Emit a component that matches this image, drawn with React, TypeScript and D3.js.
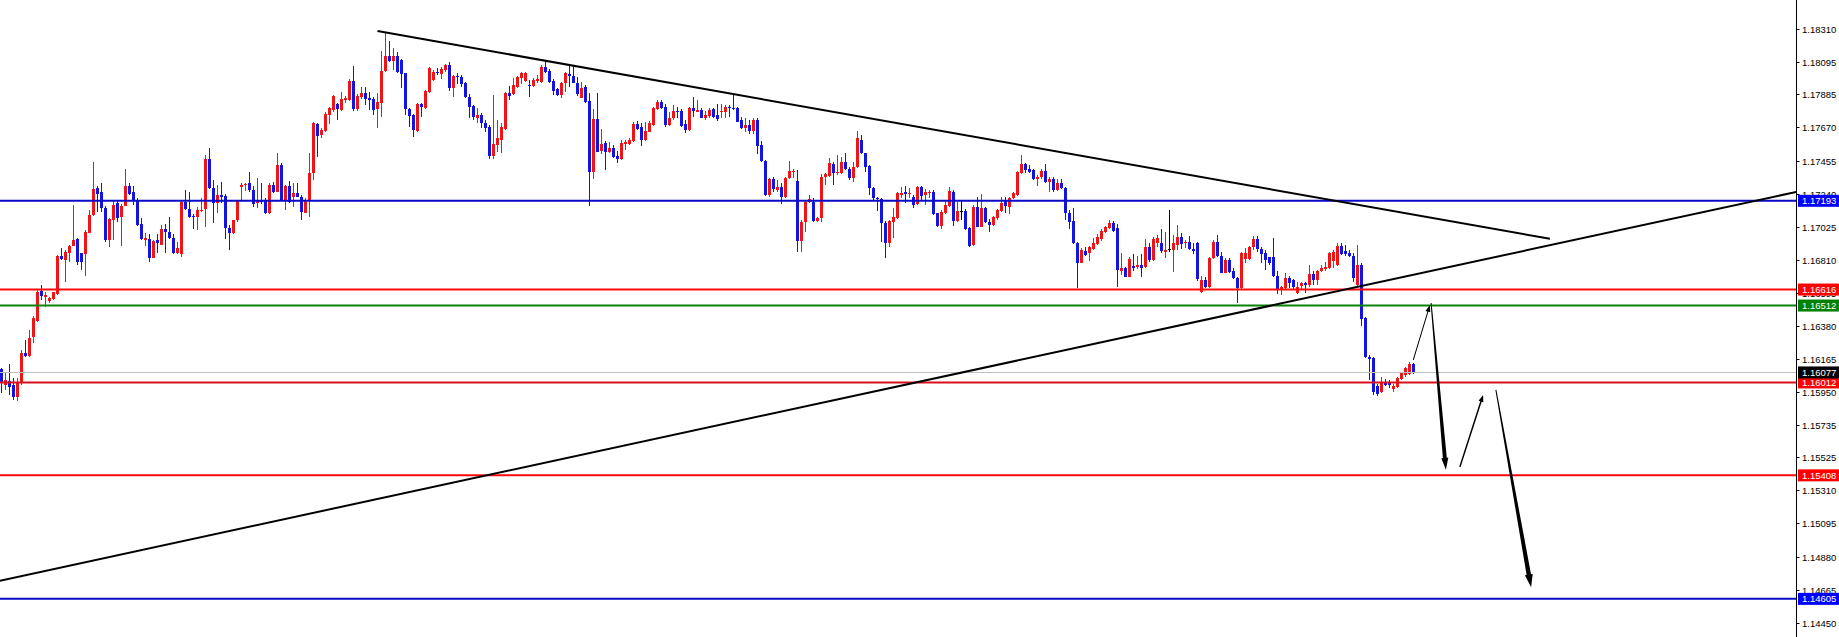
import React from 'react';
import * as d3 from 'd3';

// candle data (bar index = position from left), prices
const opens = [
  1.16098, 1.15996, 1.16024, 1.15996, 1.15920, 1.16007, 1.16206, 1.16185, 1.16310, 1.16414, 1.16607, 1.16570, 1.16544, 1.16553, 1.16588,
  1.16831, 1.16809, 1.16852, 1.16900, 1.16943, 1.16852, 1.16848, 1.16986, 1.17101, 1.17275, 1.17247, 1.17149, 1.16939, 1.17069, 1.17177,
  1.17086, 1.17160, 1.17290, 1.17247, 1.17199, 1.17043, 1.16939, 1.16943, 1.16824, 1.16939, 1.16906, 1.17008, 1.16993, 1.16954, 1.16852,
  1.16848, 1.17188, 1.17138, 1.17095, 1.17086, 1.17127, 1.17138, 1.17463, 1.17275, 1.17177, 1.17231, 1.17221, 1.17019, 1.16986, 1.17065,
  1.17281, 1.17296, 1.17307, 1.17264, 1.17177, 1.17199, 1.17195, 1.17112, 1.17296, 1.17253, 1.17426, 1.17199, 1.17291, 1.17220, 1.17246,
  1.17220, 1.17116, 1.17198, 1.17376, 1.17692, 1.17621, 1.17649, 1.17751, 1.17784, 1.17822, 1.17784, 1.17848, 1.17848, 1.17972, 1.17788,
  1.17870, 1.17896, 1.17859, 1.17853, 1.17788, 1.17831, 1.18039, 1.18134, 1.18104, 1.18134, 1.18108, 1.18022, 1.17788, 1.17751, 1.17649,
  1.17822, 1.17794, 1.17903, 1.17978, 1.18033, 1.18017, 1.18043, 1.18076, 1.17924, 1.18004, 1.18000, 1.17957, 1.17866, 1.17810, 1.17729,
  1.17751, 1.17697, 1.17675, 1.17484, 1.17556, 1.17588, 1.17658, 1.17892, 1.17887, 1.17935, 1.17989, 1.17974, 1.17946, 1.17940, 1.17974,
  1.17967, 1.18065, 1.18039, 1.17974, 1.17918, 1.17881, 1.17957, 1.18017, 1.18004, 1.17957, 1.17864, 1.17935, 1.17842, 1.17378, 1.17725,
  1.17517, 1.17567, 1.17508, 1.17534, 1.17487, 1.17465, 1.17560, 1.17560, 1.17582, 1.17690, 1.17675, 1.17588, 1.17643, 1.17686, 1.17790,
  1.17838, 1.17805, 1.17686, 1.17729, 1.17777, 1.17777, 1.17690, 1.17653, 1.17794, 1.17773, 1.17783, 1.17734, 1.17747, 1.17790, 1.17751,
  1.17768, 1.17768, 1.17805, 1.17799, 1.17794, 1.17718, 1.17669, 1.17686, 1.17647, 1.17718, 1.17556, 1.17452, 1.17231, 1.17335, 1.17263,
  1.17285, 1.17220, 1.17344, 1.17378, 1.17322, 1.16932, 1.17058, 1.17188, 1.17188, 1.17062, 1.17079, 1.17350, 1.17357, 1.17430, 1.17372,
  1.17372, 1.17443, 1.17400, 1.17339, 1.17415, 1.17589, 1.17502, 1.17420, 1.17274, 1.17213, 1.17203, 1.17051, 1.16917, 1.17058, 1.17079,
  1.17231, 1.17253, 1.17238, 1.17220, 1.17172, 1.17285, 1.17231, 1.17242, 1.17253, 1.17112, 1.17030, 1.17116, 1.17160, 1.17253, 1.17064,
  1.17129, 1.17129, 1.17014, 1.16906, 1.17155, 1.17025, 1.17144, 1.17058, 1.17036, 1.17079, 1.17129, 1.17194, 1.17155, 1.17209, 1.17231,
  1.17372, 1.17433, 1.17398, 1.17394, 1.17333, 1.17346, 1.17389, 1.17318, 1.17333, 1.17263, 1.17311, 1.17274, 1.17116, 1.17064, 1.16921,
  1.16791, 1.16869, 1.16852, 1.16878, 1.16912, 1.16943, 1.16993, 1.17014, 1.17051, 1.17014, 1.16739, 1.16754, 1.16700, 1.16769, 1.16761,
  1.16776, 1.16765, 1.16895, 1.16809, 1.16917, 1.16921, 1.16863, 1.16878, 1.16873, 1.16906, 1.16956, 1.16917, 1.16928, 1.16878, 1.16921,
  1.16603, 1.16678, 1.16631, 1.16819, 1.16928, 1.16834, 1.16726, 1.16809, 1.16739, 1.16689, 1.16624, 1.16813, 1.16813, 1.16895, 1.16943,
  1.16878, 1.16856, 1.16826, 1.16826, 1.16704, 1.16614, 1.16624, 1.16689, 1.16678, 1.16596, 1.16640, 1.16661, 1.16646, 1.16717, 1.16678,
  1.16739, 1.16748, 1.16754, 1.16800, 1.16776, 1.16900, 1.16869, 1.16852, 1.16834, 1.16646, 1.16776, 1.16429, 1.16180, 1.16170, 1.15990,
  1.15953, 1.16018, 1.16007, 1.15968, 1.15981, 1.16033, 1.16061, 1.16067, 1.16132,
];

const highs = [
  1.16105, 1.16076, 1.16131, 1.16040, 1.16040, 1.16224, 1.16289, 1.16354, 1.16441, 1.16614, 1.16646, 1.16599, 1.16570, 1.16603, 1.16841,
  1.16885, 1.16874, 1.16906, 1.17166, 1.16950, 1.16856, 1.17004, 1.17134, 1.17448, 1.17286, 1.17307, 1.17156, 1.17080, 1.17195, 1.17195,
  1.17173, 1.17398, 1.17312, 1.17286, 1.17210, 1.17080, 1.16982, 1.16978, 1.16939, 1.16978, 1.17036, 1.17043, 1.17086, 1.16978, 1.16928,
  1.17199, 1.17260, 1.17253, 1.17108, 1.17151, 1.17210, 1.17491, 1.17535, 1.17329, 1.17296, 1.17318, 1.17238, 1.17036, 1.17069, 1.17199,
  1.17307, 1.17312, 1.17381, 1.17286, 1.17340, 1.17307, 1.17210, 1.17312, 1.17318, 1.17502, 1.17437, 1.17296, 1.17322, 1.17307, 1.17307,
  1.17231, 1.17209, 1.17502, 1.17708, 1.17701, 1.17664, 1.17772, 1.17801, 1.17881, 1.17831, 1.17903, 1.17874, 1.17983, 1.18069, 1.17887,
  1.17935, 1.17935, 1.17903, 1.17866, 1.17896, 1.18169, 1.18293, 1.18234, 1.18184, 1.18163, 1.18113, 1.18026, 1.17794, 1.17757, 1.17831,
  1.17831, 1.17913, 1.18065, 1.18043, 1.18054, 1.18061, 1.18082, 1.18098, 1.18011, 1.18026, 1.18011, 1.17967, 1.17887, 1.17816, 1.17794,
  1.17766, 1.17718, 1.17686, 1.17881, 1.17718, 1.17701, 1.17903, 1.17940, 1.17989, 1.18004, 1.18033, 1.18033, 1.17978, 1.17989, 1.18011,
  1.18076, 1.18104, 1.18048, 1.17983, 1.17924, 1.17967, 1.18033, 1.18076, 1.18076, 1.18000, 1.17968, 1.17946, 1.17892, 1.17790, 1.17892,
  1.17660, 1.17582, 1.17578, 1.17556, 1.17517, 1.17588, 1.17588, 1.17599, 1.17708, 1.17712, 1.17697, 1.17708, 1.17712, 1.17805, 1.17848,
  1.17848, 1.17820, 1.17773, 1.17816, 1.17805, 1.17790, 1.17718, 1.17805, 1.17870, 1.17848, 1.17794, 1.17777, 1.17794, 1.17794, 1.17820,
  1.17820, 1.17816, 1.17816, 1.17892, 1.17805, 1.17740, 1.17729, 1.17718, 1.17729, 1.17734, 1.17582, 1.17458, 1.17339, 1.17350, 1.17328,
  1.17307, 1.17350, 1.17452, 1.17400, 1.17393, 1.17068, 1.17198, 1.17231, 1.17209, 1.17090, 1.17365, 1.17372, 1.17469, 1.17443, 1.17491,
  1.17480, 1.17502, 1.17415, 1.17448, 1.17647, 1.17620, 1.17506, 1.17426, 1.17285, 1.17220, 1.17209, 1.17064, 1.17068, 1.17144, 1.17253,
  1.17285, 1.17290, 1.17274, 1.17231, 1.17290, 1.17290, 1.17268, 1.17263, 1.17263, 1.17116, 1.17133, 1.17199, 1.17281, 1.17263, 1.17188,
  1.17194, 1.17138, 1.17021, 1.17166, 1.17216, 1.17238, 1.17155, 1.17073, 1.17094, 1.17138, 1.17216, 1.17216, 1.17220, 1.17253, 1.17389,
  1.17491, 1.17441, 1.17426, 1.17398, 1.17361, 1.17398, 1.17433, 1.17346, 1.17346, 1.17333, 1.17333, 1.17281, 1.17133, 1.17144, 1.16928,
  1.16884, 1.16891, 1.16899, 1.16949, 1.16977, 1.17008, 1.17030, 1.17068, 1.17064, 1.17042, 1.16852, 1.16765, 1.16826, 1.16847, 1.16834,
  1.16847, 1.16943, 1.16917, 1.16956, 1.16971, 1.17008, 1.16993, 1.17133, 1.16971, 1.17036, 1.16982, 1.16939, 1.16964, 1.16917, 1.16928,
  1.16704, 1.16696, 1.16830, 1.16939, 1.16971, 1.16863, 1.16819, 1.16819, 1.16754, 1.16700, 1.16863, 1.16884, 1.16900, 1.16964, 1.16964,
  1.16895, 1.16873, 1.16830, 1.16949, 1.16739, 1.16640, 1.16722, 1.16704, 1.16683, 1.16668, 1.16668, 1.16668, 1.16776, 1.16739, 1.16743,
  1.16776, 1.16798, 1.16863, 1.16873, 1.16921, 1.16921, 1.16906, 1.16873, 1.16852, 1.16906, 1.16787, 1.16440, 1.16191, 1.16175, 1.16005,
  1.16046, 1.16033, 1.16028, 1.16003, 1.16046, 1.16083, 1.16115, 1.16148, 1.16137,
];

const lows = [
  1.15942, 1.15964, 1.15931, 1.15899, 1.15894, 1.15996, 1.16180, 1.16180, 1.16267, 1.16408, 1.16549, 1.16505, 1.16527, 1.16549, 1.16581,
  1.16809, 1.16668, 1.16798, 1.16896, 1.16776, 1.16744, 1.16707, 1.16982, 1.17095, 1.17117, 1.17123, 1.16928, 1.16891, 1.16939, 1.17058,
  1.16896, 1.17156, 1.17231, 1.17166, 1.17030, 1.16939, 1.16896, 1.16798, 1.16820, 1.16856, 1.16906, 1.16852, 1.16943, 1.16846, 1.16848,
  1.16826, 1.17134, 1.17080, 1.17008, 1.17004, 1.17123, 1.17021, 1.17268, 1.17047, 1.17112, 1.17177, 1.16943, 1.16870, 1.16978, 1.17058,
  1.17188, 1.17257, 1.17253, 1.17151, 1.17145, 1.17173, 1.17108, 1.17108, 1.17242, 1.17247, 1.17195, 1.17134, 1.17181, 1.17155, 1.17216,
  1.17068, 1.17112, 1.17090, 1.17328, 1.17480, 1.17599, 1.17643, 1.17692, 1.17772, 1.17718, 1.17779, 1.17831, 1.17844, 1.17779, 1.17779,
  1.17853, 1.17816, 1.17784, 1.17751, 1.17664, 1.17740, 1.18033, 1.18098, 1.18043, 1.18022, 1.17924, 1.17751, 1.17675, 1.17606, 1.17643,
  1.17740, 1.17788, 1.17896, 1.17974, 1.18011, 1.17983, 1.18033, 1.17909, 1.17870, 1.17952, 1.17935, 1.17859, 1.17729, 1.17718, 1.17701,
  1.17664, 1.17643, 1.17463, 1.17463, 1.17513, 1.17502, 1.17653, 1.17848, 1.17881, 1.17924, 1.17952, 1.17967, 1.17870, 1.17935, 1.17957,
  1.17961, 1.18022, 1.17961, 1.17881, 1.17874, 1.17859, 1.17903, 1.17935, 1.17957, 1.17877, 1.17859, 1.17827, 1.17161, 1.17335, 1.17508,
  1.17495, 1.17393, 1.17502, 1.17469, 1.17437, 1.17458, 1.17523, 1.17556, 1.17573, 1.17653, 1.17552, 1.17582, 1.17638, 1.17682, 1.17783,
  1.17790, 1.17675, 1.17682, 1.17718, 1.17734, 1.17675, 1.17632, 1.17647, 1.17740, 1.17768, 1.17729, 1.17718, 1.17734, 1.17729, 1.17712,
  1.17729, 1.17729, 1.17740, 1.17783, 1.17703, 1.17660, 1.17638, 1.17625, 1.17625, 1.17495, 1.17448, 1.17227, 1.17220, 1.17248, 1.17252,
  1.17170, 1.17214, 1.17335, 1.17344, 1.16862, 1.16858, 1.16993, 1.17177, 1.17058, 1.17053, 1.17053, 1.17296, 1.17350, 1.17296, 1.17361,
  1.17365, 1.17393, 1.17328, 1.17313, 1.17409, 1.17498, 1.17383, 1.17231, 1.17199, 1.17129, 1.16928, 1.16819, 1.16891, 1.16949, 1.17073,
  1.17209, 1.17177, 1.17209, 1.17144, 1.17166, 1.17199, 1.17166, 1.17209, 1.17101, 1.17021, 1.17008, 1.17107, 1.17155, 1.17030, 1.17058,
  1.17068, 1.17004, 1.16891, 1.16899, 1.17021, 1.17021, 1.17047, 1.16993, 1.17030, 1.17068, 1.17123, 1.17112, 1.17107, 1.17203, 1.17225,
  1.17367, 1.17372, 1.17376, 1.17328, 1.17289, 1.17333, 1.17307, 1.17253, 1.17253, 1.17259, 1.17268, 1.17068, 1.17008, 1.16912, 1.16624,
  1.16787, 1.16834, 1.16804, 1.16873, 1.16906, 1.16934, 1.16986, 1.17008, 1.16993, 1.16635, 1.16711, 1.16696, 1.16696, 1.16739, 1.16748,
  1.16696, 1.16754, 1.16798, 1.16804, 1.16895, 1.16852, 1.16819, 1.16863, 1.16733, 1.16873, 1.16878, 1.16884, 1.16873, 1.16847, 1.16674,
  1.16596, 1.16624, 1.16624, 1.16813, 1.16830, 1.16722, 1.16722, 1.16726, 1.16683, 1.16531, 1.16618, 1.16787, 1.16809, 1.16873, 1.16863,
  1.16787, 1.16743, 1.16776, 1.16700, 1.16587, 1.16581, 1.16618, 1.16624, 1.16618, 1.16587, 1.16618, 1.16592, 1.16635, 1.16646, 1.16646,
  1.16733, 1.16739, 1.16748, 1.16754, 1.16770, 1.16841, 1.16834, 1.16826, 1.16668, 1.16640, 1.16380, 1.16169, 1.16028, 1.15931, 1.15924,
  1.15946, 1.15990, 1.15974, 1.15953, 1.15974, 1.16028, 1.16050, 1.16061, 1.16067,
];

const closes = [
  1.16007, 1.16029, 1.15985, 1.15920, 1.16007, 1.16202, 1.16185, 1.16300, 1.16430, 1.16603, 1.16577, 1.16581, 1.16560, 1.16597, 1.16831,
  1.16813, 1.16863, 1.16900, 1.16939, 1.16792, 1.16792, 1.16993, 1.17101, 1.17268, 1.17238, 1.17145, 1.16939, 1.17073, 1.17166, 1.17080,
  1.17160, 1.17290, 1.17238, 1.17199, 1.17036, 1.16943, 1.16950, 1.16820, 1.16932, 1.16917, 1.17008, 1.16993, 1.16950, 1.16852, 1.16885,
  1.17188, 1.17138, 1.17086, 1.17086, 1.17134, 1.17134, 1.17463, 1.17275, 1.17177, 1.17231, 1.17216, 1.17015, 1.16986, 1.17065, 1.17195,
  1.17296, 1.17303, 1.17260, 1.17173, 1.17195, 1.17182, 1.17112, 1.17296, 1.17253, 1.17426, 1.17199, 1.17290, 1.17187, 1.17242, 1.17220,
  1.17122, 1.17198, 1.17376, 1.17697, 1.17614, 1.17653, 1.17757, 1.17794, 1.17874, 1.17788, 1.17853, 1.17864, 1.17974, 1.17788, 1.17874,
  1.17896, 1.17853, 1.17848, 1.17784, 1.17838, 1.18039, 1.18134, 1.18104, 1.18134, 1.18033, 1.18017, 1.17788, 1.17744, 1.17653, 1.17822,
  1.17801, 1.17909, 1.18054, 1.18033, 1.18022, 1.18048, 1.18076, 1.17924, 1.18004, 1.17996, 1.17952, 1.17866, 1.17805, 1.17736, 1.17751,
  1.17697, 1.17664, 1.17484, 1.17562, 1.17599, 1.17671, 1.17892, 1.17874, 1.17946, 1.17996, 1.18022, 1.18026, 1.17940, 1.17978, 1.17983,
  1.18065, 1.18033, 1.17967, 1.17909, 1.17881, 1.17961, 1.18022, 1.18004, 1.17961, 1.17885, 1.17929, 1.17838, 1.17378, 1.17725, 1.17513,
  1.17560, 1.17513, 1.17534, 1.17480, 1.17465, 1.17567, 1.17573, 1.17588, 1.17690, 1.17660, 1.17588, 1.17647, 1.17697, 1.17794, 1.17838,
  1.17799, 1.17686, 1.17734, 1.17777, 1.17768, 1.17682, 1.17653, 1.17794, 1.17777, 1.17783, 1.17734, 1.17751, 1.17783, 1.17740, 1.17725,
  1.17777, 1.17805, 1.17794, 1.17790, 1.17708, 1.17669, 1.17686, 1.17647, 1.17718, 1.17552, 1.17452, 1.17231, 1.17335, 1.17270, 1.17285,
  1.17220, 1.17344, 1.17387, 1.17387, 1.16932, 1.17058, 1.17188, 1.17205, 1.17062, 1.17079, 1.17350, 1.17365, 1.17437, 1.17372, 1.17383,
  1.17448, 1.17400, 1.17339, 1.17415, 1.17599, 1.17502, 1.17415, 1.17274, 1.17209, 1.17203, 1.17047, 1.16917, 1.17062, 1.17086, 1.17242,
  1.17246, 1.17238, 1.17246, 1.17166, 1.17285, 1.17225, 1.17253, 1.17253, 1.17107, 1.17030, 1.17123, 1.17166, 1.17259, 1.17064, 1.17129,
  1.17129, 1.17008, 1.16899, 1.17155, 1.17025, 1.17144, 1.17058, 1.17036, 1.17086, 1.17133, 1.17181, 1.17160, 1.17209, 1.17242, 1.17383,
  1.17433, 1.17394, 1.17383, 1.17333, 1.17350, 1.17389, 1.17318, 1.17333, 1.17263, 1.17311, 1.17274, 1.17112, 1.17058, 1.16917, 1.16787,
  1.16873, 1.16841, 1.16891, 1.16921, 1.16960, 1.16999, 1.17021, 1.17051, 1.16999, 1.16743, 1.16754, 1.16700, 1.16813, 1.16754, 1.16776,
  1.16754, 1.16895, 1.16809, 1.16943, 1.16949, 1.16869, 1.16873, 1.16878, 1.16917, 1.16956, 1.16912, 1.16928, 1.16878, 1.16869, 1.16683,
  1.16678, 1.16631, 1.16819, 1.16928, 1.16834, 1.16726, 1.16809, 1.16733, 1.16689, 1.16624, 1.16852, 1.16852, 1.16895, 1.16943, 1.16878,
  1.16847, 1.16809, 1.16791, 1.16704, 1.16618, 1.16631, 1.16689, 1.16661, 1.16631, 1.16631, 1.16657, 1.16646, 1.16717, 1.16678, 1.16739,
  1.16754, 1.16765, 1.16856, 1.16863, 1.16900, 1.16847, 1.16847, 1.16834, 1.16689, 1.16776, 1.16423, 1.16180, 1.16165, 1.15953, 1.15940,
  1.16018, 1.15996, 1.15996, 1.15990, 1.16039, 1.16072, 1.16104, 1.16132, 1.16076,
];

// right price scale
const tickLabels = [
  '1.18310', '1.18095', '1.17885', '1.17670', '1.17455', '1.17240', '1.17025', '1.16810', '1.16595', '1.16380',
  '1.16165', '1.15950', '1.15735', '1.15525', '1.15310', '1.15095', '1.14880', '1.14665', '1.14450',
];

// horizontal levels drawn on the chart
const levelValues = [1.17193, 1.16616, 1.16512, 1.16012, 1.15408, 1.14605];
const levelColors = ['#0a0ac8', '#ff0a0a', '#0a820a', '#d8101e', '#ff0a0a', '#0a0ac8'];
const levelBoxColors = ['#0000ff', '#ff0000', '#008000', '#ff0000', '#ff0000', '#0000ff'];
const currentPrice = 1.16077;

// trend lines, [bar index, price]
const descLine: [number, number][] = [[94.0, 1.18297], [387.1, 1.16946]];
const ascLine: [number, number][] = [[-0.4, 1.14723], [448.9, 1.17252]];

// projected path arrows, [bar index, price]
const upArrow1: [number, number][] = [[352.95, 1.16159], [357.1, 1.16516]];
const downArrow1: [number, number][] = [[357.4, 1.16529], [361.1, 1.15444]];
const upArrow2: [number, number][] = [[364.6, 1.15463], [370.4, 1.15931]];
const downArrow2: [number, number][] = [[373.6, 1.15964], [382.4, 1.14680]];

const W = 1839;
const H = 637;
const AXIS_X = 1796.5;

function arrowPoints(x1: number, y1: number, x2: number, y2: number, w1: number, w2: number, headLen: number, headW: number) {
  const dx = x2 - x1, dy = y2 - y1;
  const len = Math.sqrt(dx * dx + dy * dy);
  const ux = dx / len, uy = dy / len;
  const nx = -uy, ny = ux;
  const bx = x2 - ux * headLen, by = y2 - uy * headLen;
  const pts = [
    [x1 + nx * w1 / 2, y1 + ny * w1 / 2],
    [bx + nx * w2 / 2, by + ny * w2 / 2],
    [bx + nx * headW / 2, by + ny * headW / 2],
    [x2, y2],
    [bx - nx * headW / 2, by - ny * headW / 2],
    [bx - nx * w2 / 2, by - ny * w2 / 2],
    [x1 - nx * w1 / 2, y1 - ny * w1 / 2],
  ];
  return pts.map(p => p.map(v => v.toFixed(2)).join(',')).join(' ');
}

export default function App() {
  const x = d3.scaleLinear().domain([0, 1]).range([1.5, 5.5]);
  const y = d3.scaleLinear().domain([1.1831, 1.1445]).range([29, 622.7]);

  const candles = d3.range(opens.length).map(i => {
    const o = opens[i], c = closes[i];
    return {
      i, o, c,
      h: Math.max(highs[i], o, c),
      l: Math.min(lows[i], o, c),
    };
  });

  const colorOf = (o: number, c: number) => (c > o ? '#f01414' : c < o ? '#1414e0' : '#000000');

  const arrow = (pts: [number, number][], w1: number, w2: number, hl: number, hw: number) =>
    arrowPoints(x(pts[0][0]), y(pts[0][1]), x(pts[1][0]), y(pts[1][1]), w1, w2, hl, hw);

  const font = "'Liberation Sans', Arial, sans-serif";

  return (
    <svg width={W} height={H} style={{ position: 'absolute', left: 0, top: 0, background: '#fff' }}>
      <defs>
        <clipPath id="plotClip">
          <rect x={0} y={0} width={AXIS_X - 0.5} height={H} />
        </clipPath>
      </defs>
      <rect x={0} y={0} width={W} height={H} fill="#fff" />

      <g clipPath="url(#plotClip)">
        {/* candles */}
        <g shapeRendering="crispEdges">
          {candles.map(d => {
            const col = colorOf(d.o, d.c);
            const top = y(Math.max(d.o, d.c));
            const bot = y(Math.min(d.o, d.c));
            return (
              <g key={d.i}>
                <rect x={x(d.i) - 0.5} y={y(d.h)} width={1} height={Math.max(1, y(d.l) - y(d.h))} fill={col} />
                <rect x={x(d.i) - 1.5} y={top} width={3} height={Math.max(1, bot - top)} fill={col} />
              </g>
            );
          })}
        </g>

        {/* current price line */}
        <line x1={0} x2={AXIS_X} y1={Math.round(y(currentPrice)) + 0.5} y2={Math.round(y(currentPrice)) + 0.5} stroke="#c0c0c0" strokeWidth={1} />

        {/* horizontal levels */}
        {levelValues.map((v, k) => (
          <line key={v} x1={0} x2={AXIS_X} y1={y(v)} y2={y(v)} stroke={levelColors[k]} strokeWidth={2} />
        ))}

        {/* trend lines */}
        <line x1={x(descLine[0][0])} y1={y(descLine[0][1])} x2={x(descLine[1][0])} y2={y(descLine[1][1])} stroke="#000" strokeWidth={2} />
        <line x1={x(ascLine[0][0])} y1={y(ascLine[0][1])} x2={x(ascLine[1][0])} y2={y(ascLine[1][1])} stroke="#000" strokeWidth={2} />

        {/* projected moves */}
        <polygon points={arrow(upArrow1, 1, 1, 7, 5)} fill="#000" />
        <polygon points={arrow(downArrow1, 1, 4, 12, 7)} fill="#000" />
        <polygon points={arrow(upArrow2, 1.5, 1.5, 7, 5)} fill="#000" />
        <polygon points={arrow(downArrow2, 1, 4.5, 13, 8)} fill="#000" />
      </g>

      {/* price axis */}
      <line x1={AXIS_X} x2={AXIS_X} y1={0} y2={H} stroke="#000" strokeWidth={1} />
      <g fontFamily={font} fontSize={9.5}>
        {tickLabels.map(t => {
          const ty = Math.round(y(+t)) + 0.5;
          return (
            <g key={t}>
              <line x1={AXIS_X} x2={AXIS_X + 3} y1={ty} y2={ty} stroke="#000" strokeWidth={1} />
              <text x={1802} y={ty} dy="0.35em" fill="#000">{t}</text>
            </g>
          );
        })}

        {/* level price tags */}
        {levelValues.map((v, k) => (
          <g key={v}>
            <rect x={1798} y={y(v) - 6} width={W - 1798} height={12} fill={levelBoxColors[k]} />
            <text x={1802} y={y(v)} dy="0.35em" fill="#fff">{v.toFixed(5)}</text>
          </g>
        ))}
        <rect x={1798} y={y(currentPrice) - 6} width={W - 1798} height={12} fill="#000" />
        <text x={1802} y={y(currentPrice)} dy="0.35em" fill="#fff">{currentPrice.toFixed(5)}</text>
      </g>
    </svg>
  );
}
